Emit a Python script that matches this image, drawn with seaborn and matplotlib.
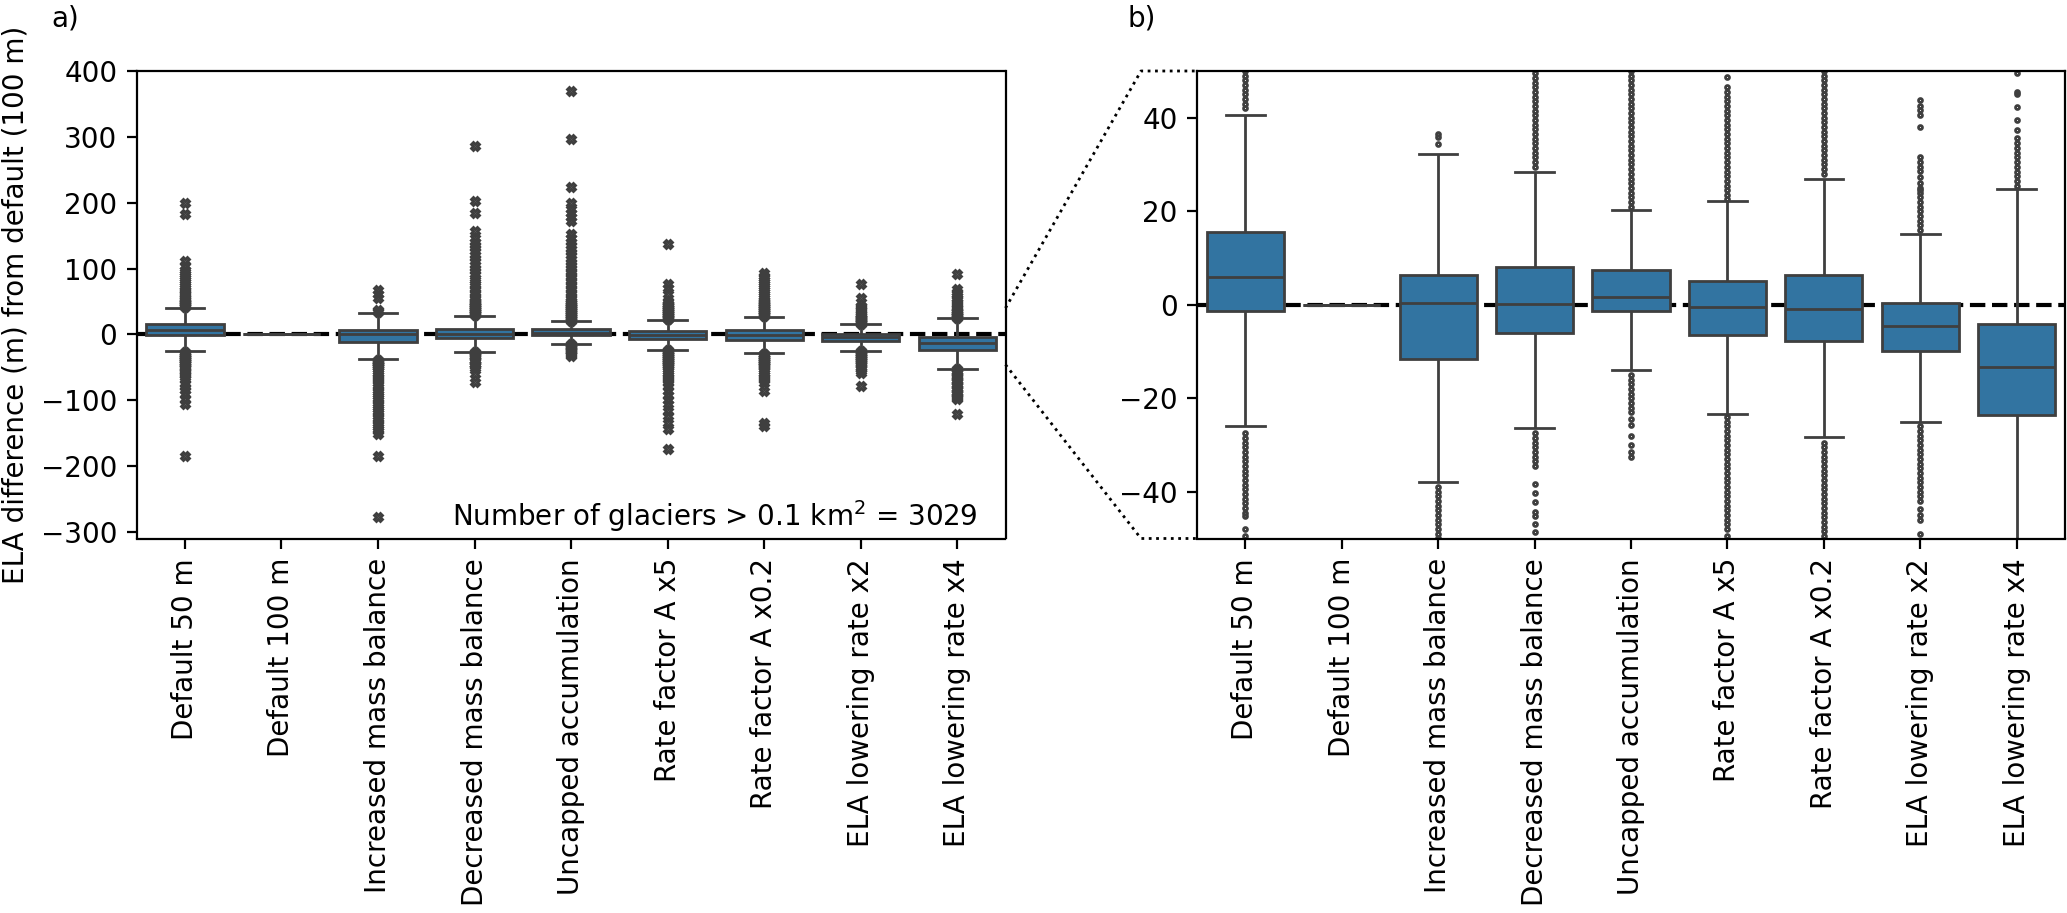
import numpy as np
import pandas as pd
import matplotlib
matplotlib.use("Agg")
import matplotlib.pyplot as plt
from matplotlib.lines import Line2D
import seaborn as sns

# ---------------- data ----------------
categories = ["Default 50 m", "Default 100 m", "Increased mass balance",
              "Decreased mass balance", "Uncapped accumulation",
              "Rate factor A x5", "Rate factor A x0.2",
              "ELA lowering rate x2", "ELA lowering rate x4"]

whisker_low = [-25.9, 0.0, -38.0, -26.3, -14.0, -23.3, -28.2, -25.1, -52.1]
quartile_1 = [-1.4, 0.0, -11.5, -6.0, -1.3, -6.4, -7.8, -10.0, -23.6]
median = [6.0, 0.0, 0.35, 0.15, 1.6, -0.5, -0.9, -4.6, -13.4]
quartile_3 = [15.6, 0.0, 6.4, 8.0, 7.5, 5.1, 6.3, 0.35, -4.1]
whisker_high = [40.5, 0.0, 32.2, 28.5, 20.2, 22.1, 26.9, 15.1, 24.8]

out_default_50 = [42, 43, 44, 45, 46, 47, 48, 49, 50, 52, 54, 56, 58, 61, 63,
                  66, 68, 71, 73, 76, 79, 82, 85, 88, 91, 94, 98, 104, 111,
                  183, 199,
                  -27.5, -28.5, -29.5, -30.5, -31.5, -32.5, -33.5, -34.5,
                  -35.5, -36.5, -37.5, -38.5, -39.5, -40.5, -41.5, -42.5,
                  -43.5, -44.5, -45.1, -48, -49.4, -51, -53, -55, -57, -60,
                  -62, -65, -68, -75, -80, -85, -90, -98, -106, -184]
out_default_100 = []
out_increased_mb = [34.3, 35.9, 36.5, 56, 61, 67,
                    -39, -40, -41, -42, -43, -44, -45, -46, -47, -48, -49,
                    -50, -52, -55, -58, -61, -64, -67, -70, -74, -77, -80,
                    -84, -87, -90, -94, -97, -100, -104, -107, -110, -114,
                    -117, -120, -124, -127, -130, -134, -137, -140, -144,
                    -147, -152, -185, -277]
out_decreased_mb = [29.5, 30.5, 31.5, 32.5, 33.5, 34.5, 35.5, 36.5, 37.5,
                    38.5, 39.5, 40.5, 41.5, 42.5, 43.5, 44.5, 45.5, 46.5,
                    47.5, 48.5, 49.5, 51, 54, 57, 61, 65, 69, 73, 77, 82, 86,
                    91, 96, 101, 106, 111, 116, 121, 126, 131, 136, 141, 147,
                    157, 185, 203, 286,
                    -27.5, -28.5, -29.5, -30.5, -31.5, -32.5, -33.5, -34.4,
                    -38.4, -40.2, -42.2, -44.4, -45.1, -46.9, -48.7, -50.6,
                    -60.8, -72.5]
out_uncapped = [21, 22, 23, 24, 25, 26, 27, 28, 29, 30, 31, 32, 33, 34, 35,
                36, 37, 38, 39, 40, 41, 42, 43, 44, 45, 46, 47, 48, 49, 50,
                53, 57, 61, 65, 69, 73, 77, 81, 85, 89, 93, 97, 101, 105, 110,
                115, 120, 125, 130, 135, 141, 147, 152, 172, 178, 185, 190,
                200, 224.5, 297, 370,
                -15, -16, -17, -18, -19, -20, -21, -22, -23, -24.5, -25.8,
                -28, -30, -31.5, -32.5]
out_rate_x5 = [22.6, 23.5, 24.5, 25.5, 26.5, 27.5, 28.5, 29.5, 30.5, 31.5,
               32.5, 33.5, 34.5, 35.5, 36.5, 37.5, 38.5, 39.5, 40.5, 41.5,
               42.5, 43.5, 44.5, 45.5, 46.5, 48.7, 50.6, 60.8, 70.8, 76,
               137.8,
               -24, -25, -26, -27, -28, -29, -30, -31, -32, -33, -34, -35,
               -36, -37, -38, -39, -40, -41, -42, -43, -44, -45, -46, -47,
               -48, -49.4, -52, -55, -58, -61, -64, -67, -70, -73.4, -78.6,
               -86, -92, -99, -106, -116, -124, -135, -143, -174]
out_rate_x02 = [28, 29, 30, 31, 32, 33, 34, 35, 36, 37, 38, 39, 40, 41, 42,
                43, 44, 45, 46, 47, 48, 49, 50, 52, 55, 58, 61, 64, 67, 70,
                73, 76, 79, 82, 85, 88, 92.7,
                -29.5, -30.5, -31.5, -32.5, -33.5, -34.5, -35.5, -36.5,
                -37.5, -38.5, -39.5, -40.5, -41.5, -42.5, -43.5, -44.5,
                -45.5, -46.5, -47.5, -48.5, -49.4, -52, -55, -58, -61, -64,
                -67, -70, -73.4, -86, -134, -139]
out_ela_x2 = [16, 17, 18, 19, 20, 21, 22, 23, 24, 24.5, 25, 26, 27.3, 28.6,
              29.5, 30.5, 31.6, 38, 40.5, 41.6, 42.6, 43.7, 55.8, 76,
              -26, -27, -28, -29, -30, -31, -32, -33, -34, -35, -36, -37,
              -38, -39, -40, -41, -42, -43.7, -45, -46, -49, -51, -53, -55,
              -58.3, -78.6]
out_ela_x4 = [25.5, 26.5, 27.5, 28.5, 29.5, 30.5, 31.5, 32.5, 33.5, 34.5,
              35.7, 37.3, 39.6, 42.3, 45.1, 45.5, 49.5, 53, 56, 59, 62, 65,
              68.4, 91.2,
              -53, -55, -57, -59, -61, -63, -65, -67, -69, -71, -73, -75,
              -77, -79, -81, -83, -85, -87, -89, -91, -93, -95, -97, -98.8,
              -121.6]

outliers = [out_default_50, out_default_100, out_increased_mb,
            out_decreased_mb, out_uncapped, out_rate_x5, out_rate_x02,
            out_ela_x2, out_ela_x4]

n_glaciers = 3029

# ---- build a sample per scenario that reproduces the read box statistics ----
K = 1000
rows = []
for i, cat in enumerate(categories):
    vals = ([whisker_low[i]] + [quartile_1[i]] * K + [median[i]] * K
            + [quartile_3[i]] * K + [whisker_high[i]] + list(outliers[i]))
    rows.append(pd.DataFrame({"scenario": cat, "diff": vals}))
df = pd.concat(rows, ignore_index=True)

# ---------------- figure ----------------
fig = plt.figure(figsize=(10.335, 4.565), dpi=200)
W, H = 2067, 913
bottom_px, top_px = 538.5, 71.0
ax1 = fig.add_axes([136.7 / W, 1 - bottom_px / H, (1005.5 - 136.7) / W,
                    (bottom_px - top_px) / H])
ax2 = fig.add_axes([1197.0 / W, 1 - bottom_px / H, (2065.0 - 1197.0) / W,
                    (bottom_px - top_px) / H])

for ax in (ax1, ax2):
    ax.axhline(0, color="black", ls="--", lw=1.5, zorder=0)

sns.boxplot(data=df, x="scenario", y="diff", order=categories, ax=ax1,
            color="#1f77b4", fliersize=2.6, flierprops={"marker": "X"})
sns.boxplot(data=df, x="scenario", y="diff", order=categories, ax=ax2,
            color="#1f77b4", fliersize=1.4, flierprops={"marker": "o"})

ax1.set_ylim(-310, 400)
ax1.set_yticks([-300, -200, -100, 0, 100, 200, 300, 400])
ax2.set_ylim(-50, 50)
ax2.set_yticks([-40, -20, 0, 20, 40])
for ax in (ax1, ax2):
    ax.set_xlabel("")
    ax.tick_params(axis="x", labelrotation=90)
ax1.set_ylabel("ELA difference (m) from default (100 m)")
ax2.set_ylabel("")

ax1.text(0.968, 0.027, "Number of glaciers > 0.1 km$^2$ = %d" % n_glaciers,
         transform=ax1.transAxes, ha="right", va="baseline")
ax1.text(-0.098, 1.095, "a)", transform=ax1.transAxes, ha="left",
         va="baseline")
ax2.text(-0.08, 1.095, "b)", transform=ax2.transAxes, ha="left",
         va="baseline")

# zoom connector lines (figure pixel geometry)
def fy(v, lo=-310, hi=400):
    return 1 - (bottom_px - (v - lo) / (hi - lo) * (bottom_px - top_px)) / H

x_a = 1005.5 / W
x_bend = 1141.0 / W
x_b = 1197.0 / W
fig.add_artist(Line2D([x_a, x_bend, x_b], [fy(40), 1 - top_px / H, 1 - top_px / H],
                      transform=fig.transFigure, color="black", ls=":", lw=1.0))
fig.add_artist(Line2D([x_a, x_bend, x_b], [fy(-46), 1 - bottom_px / H, 1 - bottom_px / H],
                      transform=fig.transFigure, color="black", ls=":", lw=1.0))

fig.savefig("out.png", dpi=200)
